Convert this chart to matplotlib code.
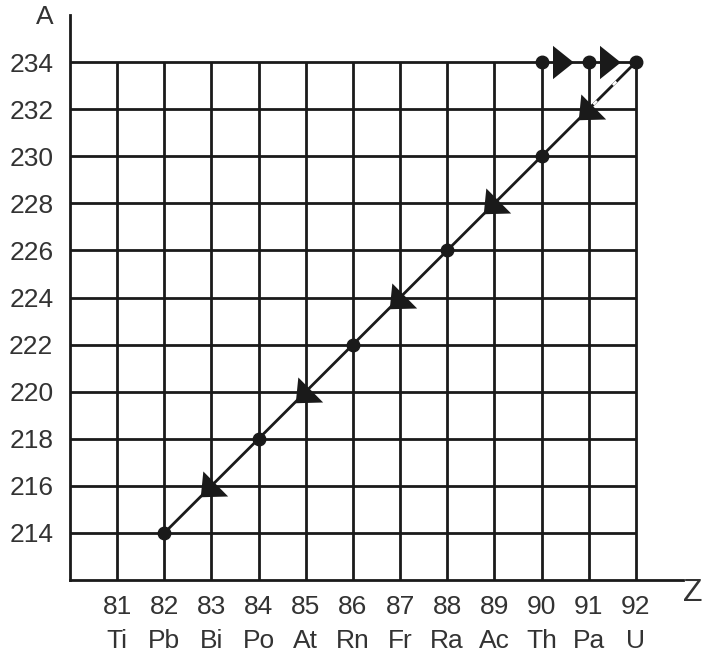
import matplotlib
matplotlib.use("Agg")
import matplotlib.pyplot as plt
from matplotlib.path import Path
import numpy as np

plt.rcParams['font.family'] = ['Liberation Sans', 'DejaVu Sans']

# Data
z_ticks = [81, 82, 83, 84, 85, 86, 87, 88, 89, 90, 91, 92]
elements = ["Ti", "Pb", "Bi", "Po", "At", "Rn", "Fr", "Ra", "Ac", "Th", "Pa", "U"]
a_ticks = [214, 216, 218, 220, 222, 224, 226, 228, 230, 232, 234]
# decay chain: beta decays Th -> Pa -> U, then alpha decays down to Pb-214
chain_z = [90, 91, 92, 90, 88, 86, 84, 82]
chain_a = [234, 234, 234, 230, 226, 222, 218, 214]
n_beta = 2  # first two steps are beta decays

W, H, DPI = 703, 659, 100
fig = plt.figure(figsize=(W / DPI, H / DPI), dpi=DPI)
ax = fig.add_axes([70 / W, 1 - 580 / H, (683 - 70) / W, (580 - 15) / H])
ax.set_xlim(80, 93)
ax.set_ylim(212, 236)

line_c = '#1a1a1a'
text_c = '#333333'
lw = 2.0
fs = 19

# grid
ax.vlines(z_ticks, 212, max(a_ticks), color=line_c, lw=lw, zorder=1)
ax.hlines(a_ticks, 80, max(z_ticks), color=line_c, lw=lw, zorder=1)

for s in ['top', 'right']:
    ax.spines[s].set_visible(False)
for s in ['left', 'bottom']:
    ax.spines[s].set_color(line_c)
    ax.spines[s].set_linewidth(lw)

ax.set_xticks(z_ticks)
ax.set_xticklabels([str(z) for z in z_ticks])
ax.set_yticks(a_ticks)
ax.set_yticklabels([str(a) for a in a_ticks])
ax.tick_params(axis='both', length=0, labelsize=fs, colors=text_c)
ax.tick_params(axis='x', pad=11)
ax.tick_params(axis='y', pad=12)

for z, el in zip(z_ticks, elements):
    ax.annotate(el, xy=(z, 0), xycoords=('data', 'axes fraction'),
                xytext=(0, -44), textcoords='offset points',
                ha='center', va='center', fontsize=fs, color=text_c)

ax.text(45 / W, 1 - 17 / H, "A", transform=fig.transFigure, ha='center',
        va='center', fontsize=fs, color=text_c)
ax.text(693 / W, 1 - 593 / H, "Z", transform=fig.transFigure, ha='center',
        va='center', fontsize=23, color=text_c)

# alpha decay line
az = chain_z[n_beta:]
aa = chain_a[n_beta:]
ax.plot(az, aa, color=line_c, lw=lw, zorder=3)
# dashed look on the upper half of the first alpha step
mid_z0 = (az[0] + az[1]) / 2
mid_a0 = (aa[0] + aa[1]) / 2
ax.plot([az[0], mid_z0], [aa[0], mid_a0], color='white', lw=lw * 0.9,
        zorder=3.5, dashes=(2, 9), dash_capstyle='butt')

# points
ax.plot(chain_z, chain_a, linestyle='none', marker='o', ms=9, color=line_c, zorder=5)

# arrowheads
alpha_marker = Path([(-7.6, 14), (-10, -10), (15.5, -9.3), (-7.6, 14)],
                    [Path.MOVETO, Path.LINETO, Path.LINETO, Path.CLOSEPOLY])
beta_marker = Path([(-12, 16), (-12, -16), (8, 0), (-12, 16)],
                   [Path.MOVETO, Path.LINETO, Path.LINETO, Path.CLOSEPOLY])

cz = np.array(chain_z, dtype=float)
ca = np.array(chain_a, dtype=float)
mz = (cz[:-1] + cz[1:]) / 2
ma = (ca[:-1] + ca[1:]) / 2
ax.plot(mz[:n_beta], ma[:n_beta], linestyle='none', marker=beta_marker,
        ms=24, color=line_c, mew=0, zorder=6)
ax.plot(mz[n_beta:], ma[n_beta:], linestyle='none', marker=alpha_marker,
        ms=24, color=line_c, mew=0, zorder=6)

fig.savefig("out.png", dpi=DPI)
